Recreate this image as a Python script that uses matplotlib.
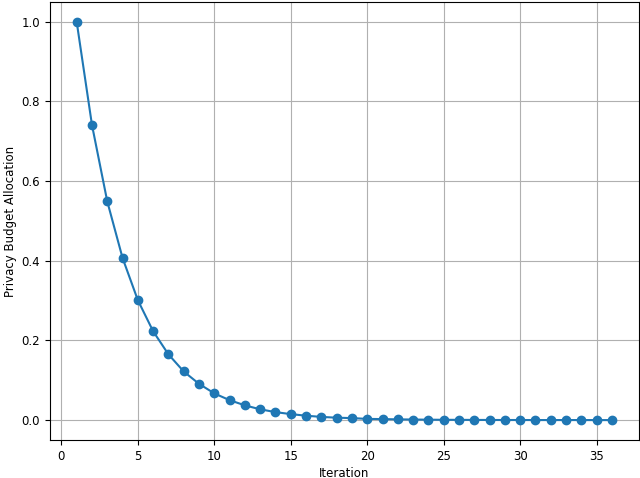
import matplotlib
matplotlib.use("Agg")
import matplotlib.pyplot as plt

iterations = list(range(1, 37))
allocation = [1.000, 0.741, 0.549, 0.407, 0.301, 0.223, 0.165, 0.122, 0.091, 0.067,
              0.050, 0.037, 0.027, 0.020, 0.015, 0.011, 0.008, 0.006, 0.005, 0.003,
              0.0025, 0.0018, 0.0014, 0.0010, 0.0007, 0.0006, 0.0004, 0.0003, 0.0002, 0.0002,
              0.0001, 0.0001, 0.0001, 0.0001, 0.0000, 0.0000]
xticks = [0, 5, 10, 15, 20, 25, 30, 35]
yticks = [0.0, 0.2, 0.4, 0.6, 0.8, 1.0]

fig = plt.figure(figsize=(6.4, 4.78), dpi=100)
ax = fig.add_axes([0.078, 0.0795, 0.92, 0.9165])
ax.plot(iterations, allocation, marker='o', color='#1f77b4', markersize=6, linewidth=1.5)
ax.set_xticks(xticks)
ax.set_yticks(yticks)
ax.set_yticklabels([f"{v:.1f}" for v in yticks])
ax.tick_params(labelsize=8.5)
ax.set_xlabel("Iteration", fontsize=8.5, labelpad=3)
ax.set_ylabel("Privacy Budget Allocation", fontsize=8.5, labelpad=3)
ax.grid(True, color='#b0b0b0', linewidth=0.8)
fig.savefig("out.png", dpi=100)
